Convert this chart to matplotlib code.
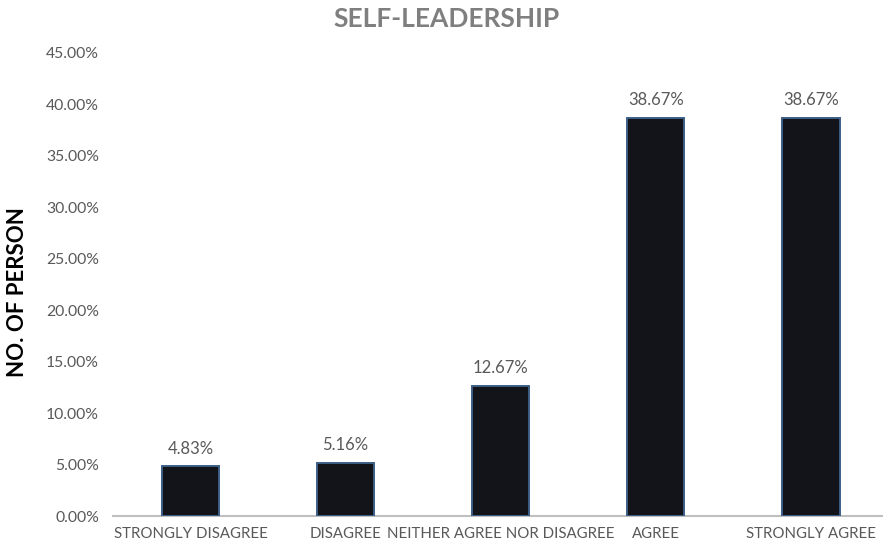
import numpy as np
import matplotlib
matplotlib.use("Agg")
import matplotlib.pyplot as plt
from matplotlib.ticker import FuncFormatter, MultipleLocator

categories = ["STRONGLY DISAGREE", "DISAGREE", "NEITHER AGREE NOR DISAGREE",
              "AGREE", "STRONGLY AGREE"]
shares = [4.83, 5.16, 12.67, 38.67, 38.67]   # percent of respondents

plt.rcParams['font.family'] = ['Lato', 'DejaVu Sans']

fig = plt.figure(figsize=(8.83, 5.52), dpi=100)
ax = fig.add_axes([0.128, 0.0652, 0.872, 0.8388])

x = np.arange(len(categories))
bars = ax.bar(x, shares, width=0.37, color='#121419',
              edgecolor='#3d5f86', linewidth=1.4, zorder=3)

# value labels above each bar
for b, v in zip(bars, shares):
    ax.annotate(f"{v:.2f}%", (b.get_x() + b.get_width() / 2, v),
                xytext=(0, 7), textcoords='offset points',
                ha='center', va='bottom', fontsize=12, color='#595959')

ax.set_xlim(-0.5, 4.465)
ax.set_ylim(0, 45)
ax.yaxis.set_major_locator(MultipleLocator(5))
ax.yaxis.set_major_formatter(FuncFormatter(lambda v, p: f"{v:.2f}%"))

ax.set_xticks(x)
ax.set_xticklabels(categories, fontsize=10.8, color='#595959')
ax.tick_params(axis='x', length=0, pad=8)
ax.tick_params(axis='y', length=0, pad=10, labelsize=11.3, labelcolor='#595959')

for s in ['top', 'right', 'left']:
    ax.spines[s].set_visible(False)
ax.spines['bottom'].set_color('#bfbfbf')
ax.spines['bottom'].set_linewidth(1.5)

fig.text(18 / 883, 1 - 292 / 552, "NO. OF PERSON", rotation=90,
         ha='center', va='center', fontsize=16, fontweight='bold', color='black')

fig.text(0.506, 0.966, "SELF-LEADERSHIP", ha='center', va='center',
         fontsize=19, fontweight='bold', color='#7f7f7f')

fig.savefig("out.png", dpi=100)
